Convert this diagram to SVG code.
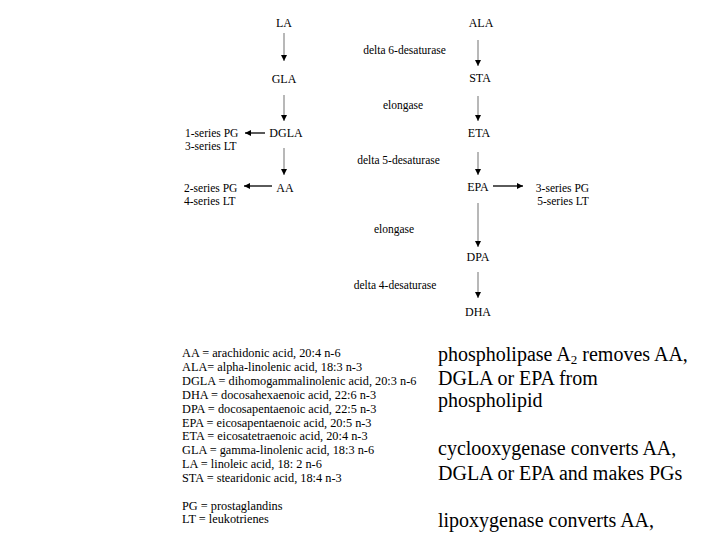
<svg xmlns="http://www.w3.org/2000/svg" width="720" height="540" viewBox="0 0 720 540">
<style>
text{font-family:"Liberation Serif","Times New Roman",serif;fill:#000}
.n{font-size:12px;text-anchor:middle}
.e{font-size:11.5px;text-anchor:middle}
.s{font-size:11.5px}
.lg{font-size:12.3px}
.big{font-size:20px}
.v{stroke:#a0a0a0;stroke-width:1.5;fill:none}
.h{stroke:#000;stroke-width:1.3;fill:none}
</style>
<defs>
<marker id="ah" viewBox="0 0 10 10" refX="10" refY="5" markerWidth="6" markerHeight="6" markerUnits="userSpaceOnUse" orient="auto">
<path d="M0,0 L10,5 L0,10 z" fill="#000"/>
</marker>
</defs>
<rect width="720" height="540" fill="#fff"/>
<g id="connectors">
<line class="v" x1="284" y1="33" x2="284" y2="61" marker-end="url(#ah)"/>
<line class="v" x1="284" y1="95" x2="284" y2="121" marker-end="url(#ah)"/>
<line class="v" x1="284" y1="148" x2="284" y2="175" marker-end="url(#ah)"/>
<line class="h" x1="265" y1="133" x2="245" y2="133" marker-end="url(#ah)"/>
<line class="h" x1="272" y1="186" x2="244" y2="186" marker-end="url(#ah)"/>
<line class="v" x1="478" y1="40" x2="478" y2="66" marker-end="url(#ah)"/>
<line class="v" x1="478" y1="96" x2="478" y2="121" marker-end="url(#ah)"/>
<line class="v" x1="478" y1="152" x2="478" y2="175" marker-end="url(#ah)"/>
<line class="v" x1="478" y1="203" x2="478" y2="247" marker-end="url(#ah)"/>
<line class="v" x1="478" y1="272" x2="478" y2="298" marker-end="url(#ah)"/>
<line class="h" x1="493" y1="186" x2="523" y2="186" marker-end="url(#ah)"/>
</g>
<g id="LA"><text class="n" x="284" y="27">LA</text></g>
<g id="GLA"><text class="n" x="284" y="83">GLA</text></g>
<g id="DGLA"><text class="n" x="286" y="137">DGLA</text></g>
<g id="AA"><text class="n" x="285" y="192">AA</text></g>
<g id="series1"><text class="s" x="185" y="136.5">1-series PG</text><text class="s" x="185" y="150">3-series LT</text></g>
<g id="series2"><text class="s" x="184" y="191.5">2-series PG</text><text class="s" x="184" y="205">4-series LT</text></g>
<g id="ALA"><text class="n" x="481" y="27">ALA</text></g>
<g id="STA"><text class="n" x="480" y="82">STA</text></g>
<g id="ETA"><text class="n" x="479" y="137">ETA</text></g>
<g id="EPA"><text class="n" x="478" y="191">EPA</text></g>
<g id="DPA"><text class="n" x="478" y="261">DPA</text></g>
<g id="DHA"><text class="n" x="478" y="316">DHA</text></g>
<g id="series3"><text class="s" x="562.5" y="191.5" text-anchor="middle">3-series PG</text><text class="s" x="563" y="205" text-anchor="middle">5-series LT</text></g>
<g id="enzymes">
<text class="e" x="404.5" y="54">delta 6-desaturase</text>
<text class="e" x="403" y="109">elongase</text>
<text class="e" x="398.5" y="164">delta 5-desaturase</text>
<text class="e" x="394" y="233">elongase</text>
<text class="e" x="395" y="289">delta 4-desaturase</text>
</g>
<g id="legend">
<text class="lg" x="182" y="357">AA = arachidonic acid, 20:4 n-6</text>
<text class="lg" x="182" y="371">ALA= alpha-linolenic acid, 18:3 n-3</text>
<text class="lg" x="182" y="385">DGLA = dihomogammalinolenic acid, 20:3 n-6</text>
<text class="lg" x="182" y="399">DHA = docosahexaenoic acid, 22:6 n-3</text>
<text class="lg" x="182" y="413">DPA = docosapentaenoic acid, 22:5 n-3</text>
<text class="lg" x="182" y="427">EPA = eicosapentaenoic acid, 20:5 n-3</text>
<text class="lg" x="182" y="440">ETA = eicosatetraenoic acid, 20:4 n-3</text>
<text class="lg" x="182" y="454">GLA = gamma-linolenic acid, 18:3 n-6</text>
<text class="lg" x="182" y="468">LA = linoleic acid, 18: 2 n-6</text>
<text class="lg" x="182" y="482">STA = stearidonic acid, 18:4 n-3</text>
<text class="lg" x="182" y="510">PG = prostaglandins</text>
<text class="lg" x="182" y="523">LT = leukotrienes</text>
</g>
<g id="notes">
<text class="big" x="438" y="361">phospholipase A<tspan font-size="13" dy="3">2</tspan><tspan dy="-3"> removes AA,</tspan></text>
<text class="big" x="438" y="385">DGLA or EPA from</text>
<text class="big" x="438" y="407">phospholipid</text>
<text class="big" x="438" y="455">cyclooxygenase converts AA,</text>
<text class="big" x="438" y="480">DGLA or EPA and makes PGs</text>
<text class="big" x="438" y="527">lipoxygenase converts AA,</text>
</g>
</svg>
